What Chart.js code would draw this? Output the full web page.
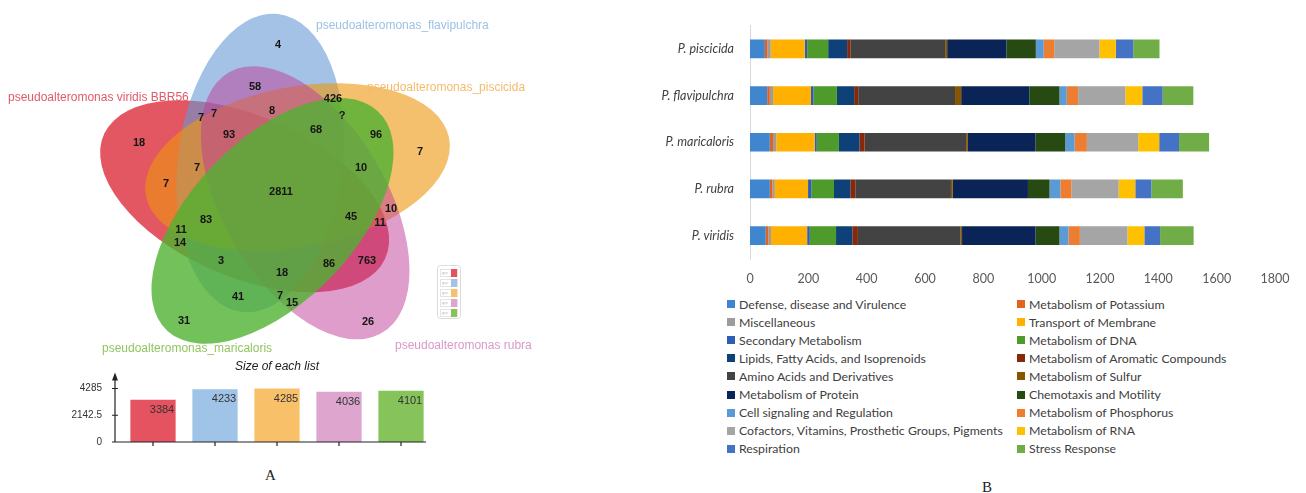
<!DOCTYPE html>
<html>
<head>
<meta charset="utf-8">
<script src="https://cdn.jsdelivr.net/npm/chart.js@4.4.1/dist/chart.umd.min.js"></script>
<style>
  body { margin: 0; width: 1306px; height: 493px; background: #fff; position: relative; overflow: hidden; font-family: Lato, sans-serif; }
  .box { position: absolute; }
  #vennBox { left: 0; top: 0; width: 560px; height: 370px; }
  #sizeBox { left: 0; top: 355px; width: 440px; height: 105px; }
  #funcBox { left: 640px; top: 10px; width: 666px; height: 280px; }
  #legend { position: absolute; left: 722px; top: 295px; display: grid; grid-template-columns: 290px 270px; }
  .item { height: 18.1px; display: flex; align-items: center; font-size: 12.3px; color: #404040; white-space: nowrap; }
  .sw { width: 8px; height: 8px; margin-left: 5px; margin-right: 4px; }
  .panel { position: absolute; font-family: "Liberation Serif", serif; font-size: 15px; color: #222; }
</style>
</head>
<body>
<div class="box" id="vennBox"><canvas id="venn"></canvas></div>
<div class="box" id="sizeBox"><canvas id="sizes"></canvas></div>
<div class="box" id="funcBox"><canvas id="funcs"></canvas></div>
<div id="legend"></div>
<div class="panel" style="left:265px; top:467px;">A</div>
<div class="panel" style="left:982px; top:479px;">B</div>

<script>
// ---------- Panel A data ----------
const setNames = ['pseudoalteromonas viridis BBR56', 'pseudoalteromonas_flavipulchra',
    'pseudoalteromonas_piscicida', 'pseudoalteromonas rubra', 'pseudoalteromonas_maricaloris'];
const listSizes = [3384, 4233, 4285, 4036, 4101];
const sizeTicks = [0, 2142.5, 4285];

// region counts and where they sit in the diagram (data units)
const regionCounts = [4, 58, 426, 8, 7, 7, '?', 68, 96, 18, 93, 7, 7, 10, 7, 2811, 10, 83, 45, 11, 11, 14, 3, 86, 763, 18, 41, 7, 15, 31, 26];
const regionX = [278, 255, 333, 272, 201, 214, 342, 316, 376, 139, 229, 420, 197, 361, 166, 281, 391, 206, 351, 380, 181, 180, 221, 329, 367, 282, 238, 280, 292, 184, 368];
const regionY = [45, 87, 99, 111, 118, 114, 116, 130, 135, 143, 135, 152, 168, 168, 184, 192, 209, 220, 217, 223, 230, 243, 261, 264, 261, 273, 297, 296, 303, 321, 322];

// ---------- Panel B data ----------
const species = ['P. piscicida', 'P. flavipulchra', 'P. maricaloris', 'P. rubra', 'P. viridis'];
const funcNames = ['Defense, disease and Virulence', 'Metabolism of Potassium', 'Miscellaneous',
    'Transport of Membrane', 'Secondary Metabolism', 'Metabolism of DNA',
    'Lipids, Fatty Acids, and Isoprenoids', 'Metabolism of Aromatic Compounds',
    'Amino Acids and Derivatives', 'Metabolism of Sulfur', 'Metabolism of Protein',
    'Chemotaxis and Motility', 'Cell signaling and Regulation', 'Metabolism of Phosphorus',
    'Cofactors, Vitamins, Prosthetic Groups, Pigments', 'Metabolism of RNA', 'Respiration', 'Stress Response'];
const defense = [51, 59, 68, 68, 54];
const potassium = [9, 9, 11, 9, 9];
const misc = [11, 11, 11, 8, 9];
const transport = [117, 130, 132, 114, 124];
const secondary = [8, 9, 7, 11, 9];
const dna = [72, 80, 76, 78, 90];
const lipids = [65, 59, 70, 56, 56];
const aromatic = [11, 14, 18, 17, 19];
const amino = [325, 332, 348, 328, 352];
const sulfur = [7, 21, 6, 6, 5];
const protein = [203, 234, 232, 258, 252];
const chemotaxis = [101, 103, 102, 74, 82];
const cellSignaling = [27, 25, 32, 37, 31];
const phosphorus = [36, 39, 42, 38, 39];
const cofactors = [155, 162, 176, 162, 163];
const rna = [56, 58, 72, 57, 58];
const respiration = [60, 70, 68, 55, 54];
const stress = [90, 105, 103, 108, 115];
const funcValues = [defense, potassium, misc, transport, secondary, dna, lipids, aromatic, amino,
    sulfur, protein, chemotaxis, cellSignaling, phosphorus, cofactors, rna, respiration, stress];

// ---------- styles ----------
const funcColors = ['#3F86CF', '#E2631F', '#9C9C9C', '#FFB000', '#2F5DB5', '#4E9A2A',
    '#0E4178', '#85290A', '#434343', '#865600', '#0B2457', '#264A12',
    '#5B9BD5', '#ED7D31', '#A5A5A5', '#FFC000', '#4472C4', '#70AD47'];
const vennFill = ['rgba(213,15,30,0.7)', 'rgba(103,153,213,0.6)', 'rgba(238,150,13,0.6)',
    'rgba(190,60,150,0.5)', 'rgba(80,178,50,0.8)'];
const vennText = ['#E05A6A', '#9CC2E5', '#F3BC6B', '#D89AC9', '#92C560'];
const sizeColors = ['#E4535F', '#A0C3E8', '#F9C06A', '#DEA5CF', '#86C35A'];

// ellipse layout: one shape rotated by 72 degrees per set
const vennGeom = { cx: 276, cy: 190, offX: -15.4, offY: -27, a: 150, b: 80, tipDeg: -83.3, stretchX: 1.03 };
const vennTurn = [4, 0, 1, 2, 3];
const vennLabelPos = [[8, 98], [316, 26], [367, 88], [395, 346], [102, 349]];

Chart.defaults.font.family = 'Lato, sans-serif';

// ==========================================
// Venn diagram (drawn on a scatter chart's scales)
// ==========================================
const vennPlugin = {
    id: 'vennShapes',
    beforeDatasetsDraw(chart) {
        const { ctx, scales: { x, y } } = chart;
        const g = vennGeom;
        const kx = x.getPixelForValue(1) - x.getPixelForValue(0);
        const ky = y.getPixelForValue(1) - y.getPixelForValue(0);
        ctx.save();
        ctx.translate(x.getPixelForValue(g.cx), y.getPixelForValue(g.cy));
        ctx.scale(kx * g.stretchX, ky);
        vennTurn.forEach((k, i) => {
            const t = k * 72 * Math.PI / 180;
            const ox = g.offX * Math.cos(t) - g.offY * Math.sin(t);
            const oy = g.offX * Math.sin(t) + g.offY * Math.cos(t);
            const rot = (g.tipDeg + k * 72) * Math.PI / 180;
            ctx.beginPath();
            ctx.ellipse(ox, oy, g.a, g.b, rot, 0, Math.PI * 2);
            ctx.fillStyle = vennFill[i];
            ctx.fill();
        });
        ctx.restore();

        // set names
        ctx.save();
        ctx.font = '12px "Liberation Sans", Arial, sans-serif';
        ctx.textBaseline = 'middle';
        setNames.forEach((n, i) => {
            ctx.fillStyle = vennText[i];
            ctx.fillText(n, x.getPixelForValue(vennLabelPos[i][0]), y.getPixelForValue(vennLabelPos[i][1]));
        });

        // little key box
        const bx = x.getPixelForValue(437), by = y.getPixelForValue(265);
        ctx.strokeStyle = '#dcdcdc';
        ctx.lineWidth = 1;
        ctx.beginPath();
        ctx.roundRect(bx + 0.5, by + 0.5, 23, 53, 3);
        ctx.stroke();
        ctx.font = '4px "Liberation Sans", sans-serif';
        sizeColors.forEach((c, i) => {
            ctx.strokeStyle = '#e4e4e4';
            ctx.strokeRect(bx + 3.5, by + 4.5 + i * 10, 17, 7);
            ctx.fillStyle = '#bbb';
            ctx.fillText('grp', bx + 5, by + 8 + i * 10);
            ctx.fillStyle = c;
            ctx.fillRect(bx + 14, by + 4 + i * 10, 6, 8);
        });
        ctx.restore();
    },
    afterDatasetsDraw(chart) {
        const { ctx } = chart;
        const meta = chart.getDatasetMeta(0);
        ctx.save();
        ctx.font = 'bold 11px "Liberation Sans", Arial, sans-serif';
        ctx.fillStyle = '#151515';
        ctx.textAlign = 'center';
        ctx.textBaseline = 'middle';
        meta.data.forEach((pt, i) => {
            ctx.fillText(String(regionCounts[i]), pt.x, pt.y);
        });
        ctx.restore();
    }
};

new Chart(document.getElementById('venn'), {
    type: 'scatter',
    data: {
        datasets: [{
            data: regionCounts.map((c, i) => ({ x: regionX[i], y: regionY[i] })),
            pointRadius: 0
        }]
    },
    options: {
        animation: false,
        responsive: true,
        maintainAspectRatio: false,
        layout: { padding: 0 },
        plugins: { legend: { display: false }, tooltip: { enabled: false } },
        scales: {
            x: { type: 'linear', display: false, min: 0, max: 560 },
            y: { type: 'linear', display: false, min: 0, max: 370, reverse: true }
        }
    },
    plugins: [vennPlugin]
});

// ==========================================
// Size of each list
// ==========================================
const sizeAxes = {
    id: 'sizeAxes',
    afterDraw(chart) {
        const { ctx, chartArea: a, scales: { x, y } } = chart;
        const ax = a.left - 7;
        ctx.save();
        ctx.strokeStyle = '#222';
        ctx.fillStyle = '#222';
        ctx.lineWidth = 1.2;
        ctx.beginPath();
        ctx.moveTo(ax, a.bottom);
        ctx.lineTo(ax, a.top + 2);
        ctx.moveTo(ax, a.bottom);
        ctx.lineTo(a.right - 6, a.bottom);
        sizeTicks.forEach(v => {
            const py = y.getPixelForValue(v);
            ctx.moveTo(ax - 3, py);
            ctx.lineTo(ax + 3, py);
        });
        listSizes.forEach((v, i) => {
            const px = x.getPixelForValue(i);
            ctx.moveTo(px, a.bottom);
            ctx.lineTo(px, a.bottom + 4);
        });
        ctx.stroke();
        ctx.beginPath();
        ctx.moveTo(ax, a.top - 3);
        ctx.lineTo(ax - 3, a.top + 5);
        ctx.lineTo(ax + 3, a.top + 5);
        ctx.closePath();
        ctx.fill();

        // values inside bars
        ctx.font = '11px "Liberation Sans", Arial, sans-serif';
        ctx.fillStyle = '#333';
        ctx.textAlign = 'center';
        ctx.textBaseline = 'middle';
        chart.getDatasetMeta(0).data.forEach((bar, i) => {
            ctx.fillText(String(listSizes[i]), bar.x + 9, bar.y + 10);
        });
        ctx.restore();
    }
};

new Chart(document.getElementById('sizes'), {
    type: 'bar',
    data: {
        labels: setNames,
        datasets: [{
            data: listSizes,
            backgroundColor: sizeColors,
            barPercentage: 0.73,
            categoryPercentage: 1
        }]
    },
    options: {
        animation: false,
        responsive: true,
        maintainAspectRatio: false,
        layout: { padding: { right: 8 } },
        plugins: {
            legend: { display: false },
            tooltip: { enabled: false },
            title: {
                display: true,
                fullSize: false,
                text: 'Size of each list',
                color: '#222',
                font: { family: '"Liberation Sans", Arial, sans-serif', size: 12, style: 'italic', weight: 'normal' },
                padding: { top: 4, bottom: 2 }
            }
        },
        scales: {
            x: {
                ticks: { display: false },
                grid: { display: false },
                border: { display: false },
                afterFit(s) { s.height = 14; }
            },
            y: {
                min: 0,
                max: 5336,
                afterBuildTicks(s) { s.ticks = sizeTicks.map(v => ({ value: v })); },
                ticks: {
                    color: '#333', padding: 12,
                    font: { family: '"Liberation Sans", Arial, sans-serif', size: 10 },
                    callback: v => String(v)
                },
                grid: { display: false },
                border: { display: false },
                afterFit(s) { s.width = 122; }
            }
        }
    },
    plugins: [sizeAxes]
});

// ==========================================
// Panel B: stacked subsystem counts
// ==========================================
const funcChart = new Chart(document.getElementById('funcs'), {
    type: 'bar',
    data: {
        labels: species,
        datasets: funcNames.map((n, i) => ({
            label: n,
            data: funcValues[i],
            backgroundColor: funcColors[i],
            barPercentage: 0.4,
            categoryPercentage: 1
        }))
    },
    options: {
        indexAxis: 'y',
        animation: false,
        responsive: true,
        maintainAspectRatio: false,
        layout: { padding: { top: 9, right: 31 } },
        plugins: { legend: { display: false }, tooltip: { enabled: false } },
        scales: {
            x: {
                stacked: true,
                min: 0,
                max: 1800,
                ticks: {
                    stepSize: 200, color: '#595959', padding: 4, maxRotation: 0,
                    font: { size: 12.5 },
                    callback: v => String(v)
                },
                grid: { display: false },
                border: { display: false },
                afterFit(s) { s.height = 31; }
            },
            y: {
                stacked: true,
                ticks: { color: '#404040', padding: 8, font: { size: 12.5, style: 'italic' } },
                grid: { display: false },
                border: { display: true, color: '#d9d9d9' },
                afterFit(s) { s.width = 110; }
            }
        }
    }
});

// two-column legend built from the chart's datasets
const legendEl = document.getElementById('legend');
funcChart.data.datasets.forEach(ds => {
    const item = document.createElement('div');
    item.className = 'item';
    item.innerHTML = '<span class="sw" style="background:' + ds.backgroundColor + '"></span>' + ds.label;
    legendEl.appendChild(item);
});
</script>
</body>
</html>
